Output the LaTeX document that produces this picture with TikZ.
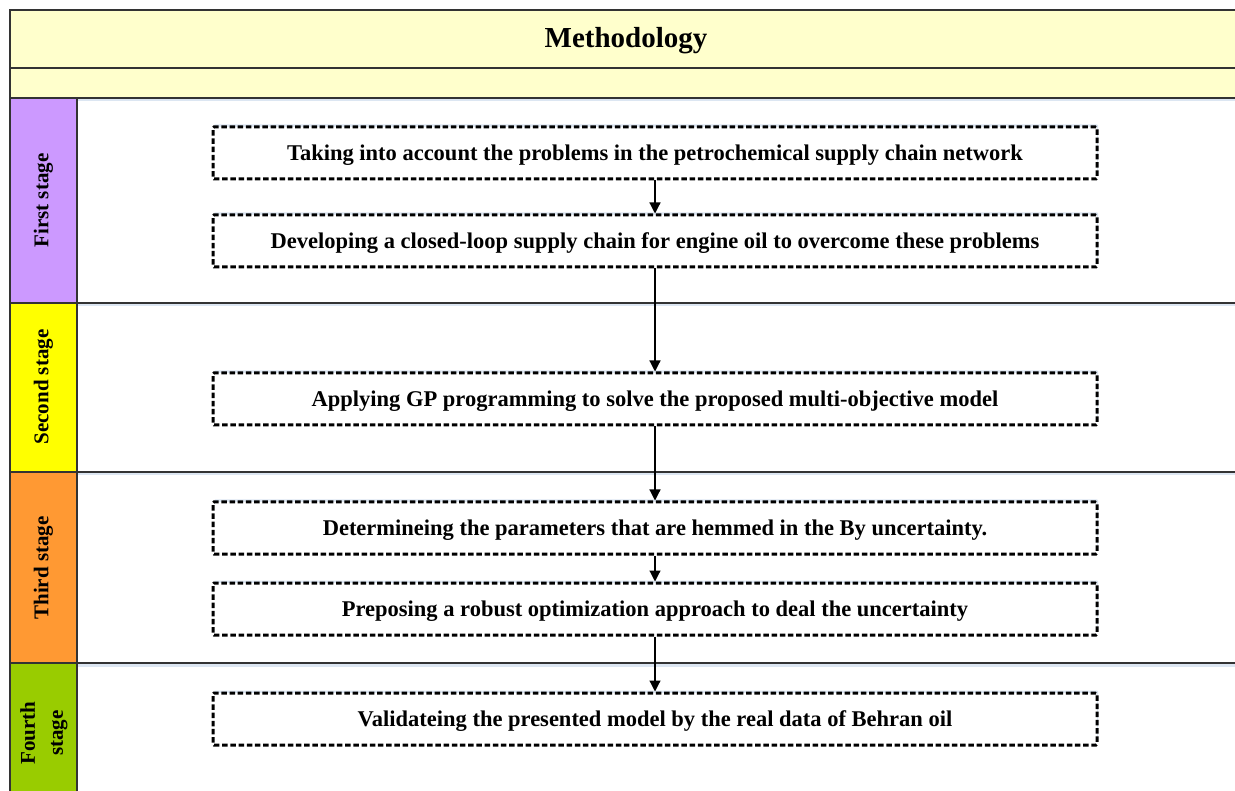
\documentclass[tikz,border=0pt]{standalone}
\usepackage{fontspec}
\setmainfont{Liberation Serif}
\usetikzlibrary{arrows.meta,shadows}
\definecolor{headband}{HTML}{FFFFCC}
\definecolor{stageA}{HTML}{CC99FF}
\definecolor{stageB}{HTML}{FFFF00}
\definecolor{stageC}{HTML}{FF9933}
\definecolor{stageD}{HTML}{99CC00}
\definecolor{frameline}{HTML}{333333}
\definecolor{glow}{HTML}{DCE6F2}
\tikzset{
  stepbox/.style={draw=black, dash pattern=on 5.5pt off 2.7pt, line width=3pt,
    fill=white, minimum width=884pt, minimum height=52pt, inner sep=0pt,
    text height=18pt, text depth=3pt,
    rounded corners=1pt, font=\bfseries\fontsize{22.5}{24}\selectfont,
    drop shadow={shadow xshift=1pt, shadow yshift=2.5pt, fill=glow, opacity=1}},
  stagelabel/.style={rotate=90, font=\bfseries\fontsize{21}{28}\selectfont,
    align=center, inner sep=0pt},
  rule/.style={draw=frameline, line width=1.4pt},
  flow/.style={draw=black, line width=1.2pt, -{Triangle[length=11pt,width=11pt]}},
}
\begin{document}
\begin{tikzpicture}[x=1pt,y=-1pt]
\clip (0,0) rectangle (1235,791);
\useasboundingbox (0,0) rectangle (1235,791);
\fill[white] (0,0) rectangle (1235,791);

% heading bands
\fill[headband] (10,10) rectangle (1242,98);
\fill[glow] (10,98) rectangle (1242,101.5);
\node[font=\bfseries\fontsize{29}{30}\selectfont, anchor=base] (title) at (626,48) {Methodology};

% stage column cells
\fill[stageA] (10,98) rectangle (77,303);
\fill[stageB] (10,303) rectangle (77,472);
\fill[stageC] (10,472) rectangle (77,663);
\fill[stageD] (10,663) rectangle (77,800);

% faint glow under the stage separators
\foreach \yy in {303,472,663} \fill[glow] (77,\yy) rectangle (1242,\yy+3.5);

% frame and separators
\draw[rule] (10,800) -- (10,10) -- (1242,10);
\draw[rule] (10,68) -- (1242,68);
\draw[rule] (10,98) -- (1242,98);
\draw[rule] (10,303) -- (1242,303);
\draw[rule] (10,472) -- (1242,472);
\draw[rule] (10,663) -- (1242,663);
\draw[rule] (77,98) -- (77,800);

% stage labels
\node[stagelabel] (s1) at (43.5,200.5) {First stage};
\node[stagelabel] (s2) at (43.5,387) {Second stage};
\node[stagelabel] (s3) at (43.5,568) {Third stage};
\node[stagelabel] (s4) at (44,733) {Fourth\\stage};

% process steps
\node[stepbox] (b1) at (655,153) {Taking into account the problems in the petrochemical supply chain network};
\node[stepbox] (b2) at (655,241) {Developing a closed-loop supply chain for engine oil to overcome these problems};
\node[stepbox] (b3) at (655,399) {Applying GP programming to solve the proposed multi-objective model};
\node[stepbox] (b4) at (655,528) {Determineing the parameters that are hemmed in the By uncertainty.};
\node[stepbox] (b5) at (655,609) {Preposing a robust optimization approach to deal the uncertainty};
\node[stepbox] (b6) at (655,719) {Validateing the presented model by the real data of Behran oil};

% connectors
\draw[flow] (b1.south) -- (b2.north);
\draw[flow] (b2.south) -- (b3.north);
\draw[flow] (b3.south) -- (b4.north);
\draw[flow] (b4.south) -- (b5.north);
\draw[flow] (b5.south) -- (b6.north);
\end{tikzpicture}
\end{document}
